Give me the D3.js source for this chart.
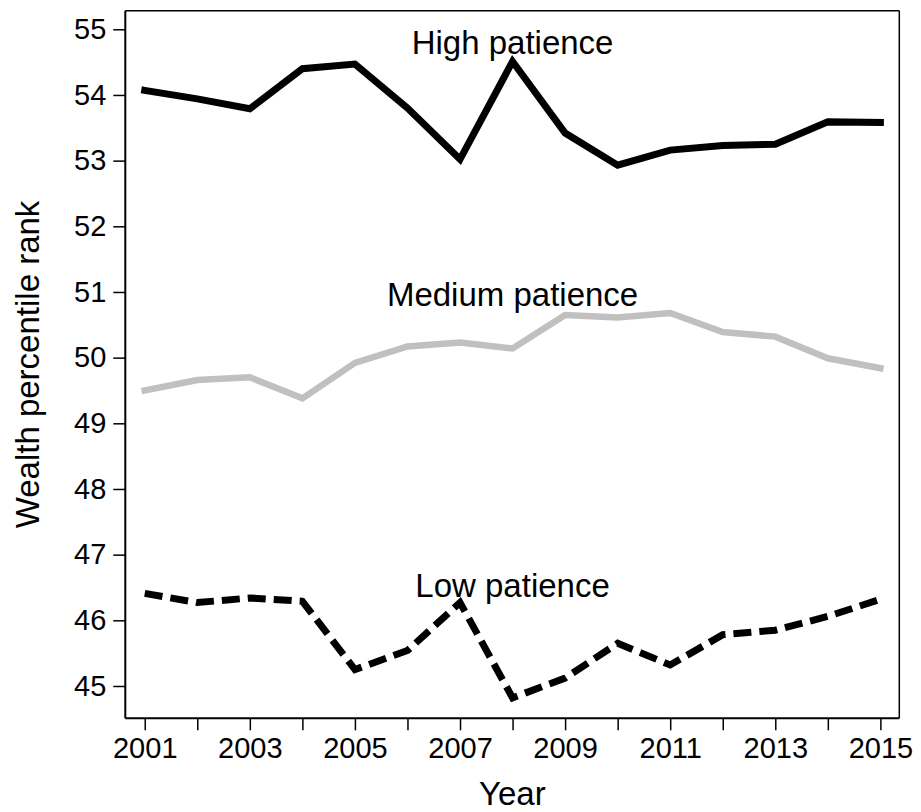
<!DOCTYPE html>
<html>
<head>
<meta charset="utf-8">
<script src="https://cdn.jsdelivr.net/npm/d3@7"></script>
<style>
  html, body { margin: 0; padding: 0; background: #fff; }
  svg { display: block; font-family: "Liberation Sans", Arial, Helvetica, sans-serif; }
</style>
</head>
<body>
<svg id="chart" width="921" height="812"></svg>
<script>
// ---- Data ----
const years = [2001, 2002, 2003, 2004, 2005, 2006, 2007, 2008, 2009, 2010, 2011, 2012, 2013, 2014, 2015];
const highPatience   = [54.07, 53.94, 53.79, 54.40, 54.47, 53.80, 53.02, 54.51, 53.42, 52.93, 53.16, 53.23, 53.25, 53.59, 53.58];
const mediumPatience = [49.50, 49.66, 49.70, 49.38, 49.92, 50.17, 50.23, 50.14, 50.65, 50.61, 50.68, 50.39, 50.32, 49.99, 49.84];
const lowPatience    = [46.41, 46.27, 46.34, 46.29, 45.25, 45.54, 46.27, 44.82, 45.12, 45.65, 45.32, 45.78, 45.85, 46.06, 46.32];
const yTicks = [45, 46, 47, 48, 49, 50, 51, 52, 53, 54, 55];
const xTickLabels = [2001, 2003, 2005, 2007, 2009, 2011, 2013, 2015];
const seriesNames = ["High patience", "Medium patience", "Low patience"];
const labelYears = [2008, 2008, 2008];
const labelValues = [54.63, 50.79, 46.36];

// ---- Layout ----
const svg = d3.select("#chart");
const plot = { left: 125.3, right: 899.3, top: 10.7, bottom: 718.3 };

const x = d3.scaleLinear().domain([2000.63, 2015.36]).range([plot.left, plot.right]);
const y = d3.scaleLinear().domain([44.508, 55.283]).range([plot.bottom, plot.top]);

// frame (top and right)
svg.append("line").attr("x1", plot.left).attr("x2", plot.right).attr("y1", plot.top).attr("y2", plot.top)
  .attr("stroke", "#000").attr("stroke-width", 1.5);
svg.append("line").attr("x1", plot.right).attr("x2", plot.right).attr("y1", plot.top).attr("y2", plot.bottom)
  .attr("stroke", "#000").attr("stroke-width", 1.5);

// Y axis
const yAxis = svg.append("g")
  .attr("transform", `translate(${plot.left},0)`)
  .call(d3.axisLeft(y).tickValues(yTicks).tickFormat(d3.format("d")).tickSize(12).tickPadding(7).tickSizeOuter(0));
yAxis.select(".domain").attr("stroke-width", 2).attr("d", `M0,${plot.top}V${plot.bottom}`);
yAxis.selectAll(".tick line").attr("stroke-width", 1.5);
yAxis.selectAll(".tick text").attr("font-size", 29).attr("fill", "#000")
  .attr("font-family", "'Liberation Sans', Arial, sans-serif");

// X axis
const xAxis = svg.append("g")
  .attr("transform", `translate(0,${plot.bottom})`)
  .call(d3.axisBottom(x).tickValues(years)
    .tickFormat(d => xTickLabels.includes(d) ? String(d) : "")
    .tickSize(12).tickPadding(7.5).tickSizeOuter(0));
xAxis.select(".domain").attr("stroke-width", 2).attr("d", `M${plot.left},0H${plot.right}`);
xAxis.selectAll(".tick line").attr("stroke-width", 1.5);
xAxis.selectAll(".tick text").attr("font-size", 29).attr("fill", "#000")
  .attr("font-family", "'Liberation Sans', Arial, sans-serif");

// Axis titles
svg.append("text")
  .attr("x", (plot.left + plot.right) / 2).attr("y", 805)
  .attr("text-anchor", "middle").attr("font-size", 33).text("Year");
svg.append("text")
  .attr("transform", `translate(39,${(plot.top + plot.bottom) / 2}) rotate(-90)`)
  .attr("text-anchor", "middle").attr("font-size", 33).text("Wealth percentile rank");

// Lines
const line = d3.line().x((d, i) => x(years[i])).y(d => y(d));
const styles = [
  { data: highPatience, color: "#000", width: 7, dash: null, cap: "square" },
  { data: mediumPatience, color: "#c0c0c0", width: 6.5, dash: null, cap: "square" },
  { data: lowPatience, color: "#000", width: 7, dash: "18,8", cap: "butt" }
];
styles.forEach(s => {
  svg.append("path").datum(s.data)
    .attr("d", line)
    .attr("fill", "none")
    .attr("stroke", s.color)
    .attr("stroke-width", s.width)
    .attr("stroke-linejoin", "miter")
    .attr("stroke-linecap", s.cap)
    .attr("stroke-dasharray", s.dash);
});

// Series labels
seriesNames.forEach((name, i) => {
  svg.append("text")
    .attr("x", x(labelYears[i])).attr("y", y(labelValues[i]))
    .attr("text-anchor", "middle").attr("font-size", 33).attr("fill", "#000")
    .text(name);
});
</script>
</body>
</html>
